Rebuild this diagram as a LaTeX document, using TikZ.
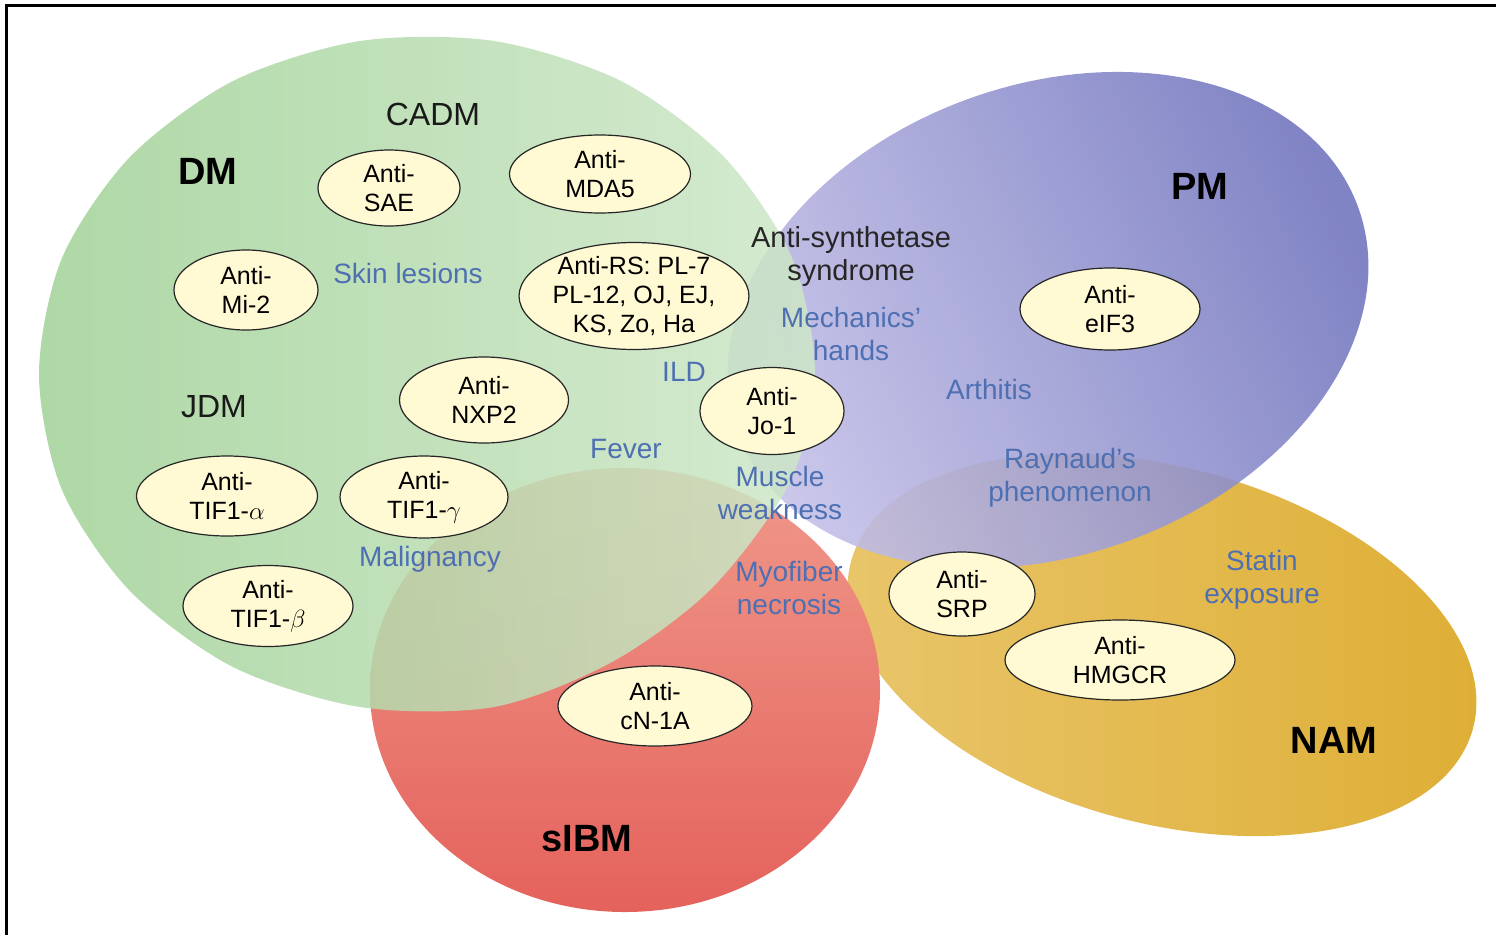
\documentclass[tikz,border=0pt]{standalone}
\usepackage{fontspec}
\setmainfont{Liberation Sans}
\usepackage{tikz}
\usetikzlibrary{
    shapes.geometric,
    backgrounds
}
\tikzset{
  anti/.style     = {draw=black!85, ellipse, fill=AbCream, inner sep=0pt,
                     line width=1.2pt, align=center,
                     font=\fontsize{25}{29}\selectfont},
  sign/.style     = {text=SignBlue, align=center,
                     font=\fontsize{28}{33}\selectfont},
  syn/.style      = {text=black!85, align=center,
                     font=\fontsize{29}{33}\selectfont},
  group/.style    = {text=black, font=\fontsize{38}{44}\selectfont\bfseries},
  subgroup/.style = {text=black!90, font=\fontsize{32}{38}\selectfont}
}
\definecolor{DMgreenL}{RGB}{160,209,150}
\definecolor{DMgreenR}{RGB}{206,231,200}
\definecolor{PMblueL}{RGB}{200,196,234}
\definecolor{PMblueR}{RGB}{114,118,190}
\definecolor{IBMredL}{RGB}{228,98,92}
\definecolor{IBMredR}{RGB}{240,152,138}
\definecolor{NAMgoldL}{RGB}{233,198,108}
\definecolor{NAMgoldR}{RGB}{222,174,52}
\definecolor{AbCream}{RGB}{255,249,212}
\definecolor{SignBlue}{RGB}{78,112,178}

\begin{document}
\begin{tikzpicture}[x=1pt,y=-1pt]
\useasboundingbox (0,0) rectangle (1496,935);
% the four groups
\shade[left color=NAMgoldL, right color=NAMgoldR, rotate around={-15:(1162,645)}]
  (1162,645) ellipse [x radius=322, y radius=178];
\shade[top color=IBMredR, bottom color=IBMredL]
  (625,690) ellipse [x radius=255, y radius=222];
\shade[left color=PMblueL, right color=PMblueR, shading angle=115, opacity=0.9,
  rotate around={20:(1048,320)}]
  (1048,320) ellipse [x radius=330, y radius=235];
\shade[left color=DMgreenL, right color=DMgreenR, opacity=0.85] plot[smooth cycle] coordinates {
  (815,374) (790,482) (712,588) (612,662) (494,707) (360,707)
  (233,667) (130,591) (62,490) (39,374) (62,258) (130,157)
  (233,81) (360,41) (494,41) (621,81) (724,157) (792,258)};
% frame
\draw[line width=3.5pt] (1496,5.5) -- (6.5,5.5) -- (6.5,935);

\node[group] (dm) at (208,171) {DM};
\node[subgroup] (cadm) at (433,114) {CADM};
\node[subgroup] (jdm) at (214,407) {JDM};
\node[group] (pm) at (1200,186) {PM};
\node[group] (nam) at (1334,740) {NAM};
\node[group] (sibm) at (587,839) {sIBM};

\foreach \n/\x/\y/\w/\h/\t in {
  sae/389/188/142/76/{Anti-\\SAE},
  mda5/600/174/181/78/{Anti-\\MDA5},
  mi2/246/290/144/80/{Anti-\\Mi-2},
  nxp2/484/400/169/86/{Anti-\\NXP2},
  jo1/772/411/144/87/{Anti-\\Jo-1},
  tifa/227/496/181/80/{Anti-\\TIF1-$\alpha$},
  tifg/424/497/168/82/{Anti-\\TIF1-$\gamma$},
  tifb/268/606/170/81/{Anti-\\TIF1-$\beta$},
  eif3/1110/309/180/82/{Anti-\\eIF3},
  srp/962/594/146/84/{Anti-\\SRP},
  hmgcr/1120/660/230/80/{Anti-\\HMGCR},
  cn1a/655/706/194/80/{Anti-\\cN-1A}}
  \node[anti, minimum width=\w, minimum height=\h] (\n) at (\x,\y) {\t};
\node[anti, minimum width=225, minimum height=107, inner ysep=-5pt] (rs) at (634,296)
  {Anti-RS: PL-7\\PL-12, OJ, EJ,\\KS, Zo, Ha};

\node[syn] (asyn) at (851,256) {Anti-synthetase\\syndrome};
\node[sign] (skin) at (408,273) {Skin lesions};
\node[sign] (ild) at (684,372) {ILD};
\node[sign] (fever) at (626,449) {Fever};
\node[sign] (malig) at (430,559) {Malignancy};
\node[sign] (mech) at (851,334) {Mechanics'\\hands};
\node[sign] (arth) at (989,389) {Arthitis};
\node[sign] (rayn) at (1070,478) {Raynaud's\\phenomenon};
\node[sign] (musc) at (780,493) {Muscle\\weakness};
\node[sign] (myo) at (789,588) {Myofiber\\necrosis};
\node[sign] (statin) at (1262,580) {Statin\\exposure};
\end{tikzpicture}
\end{document}
